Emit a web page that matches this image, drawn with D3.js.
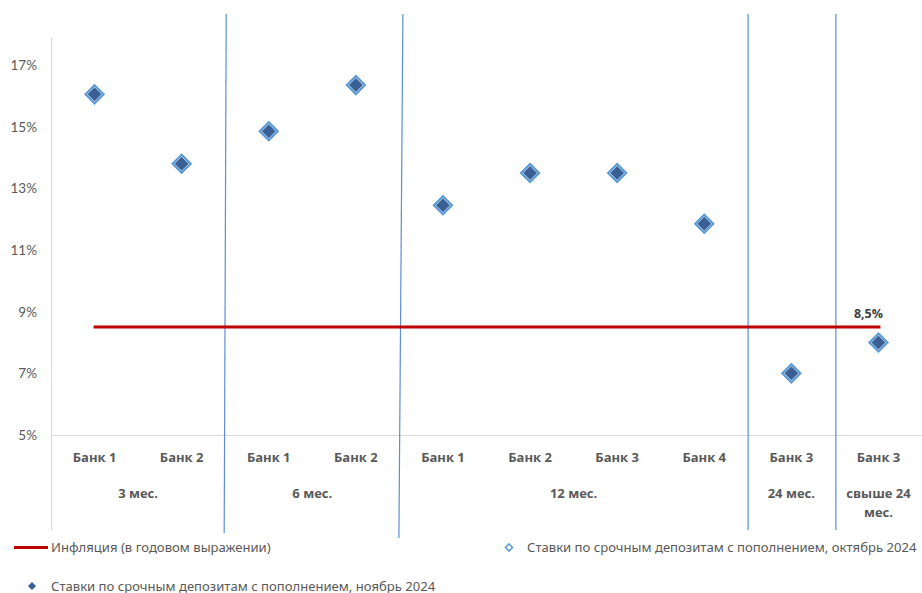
<!DOCTYPE html>
<html>
<head>
<meta charset="utf-8">
<script src="https://cdn.jsdelivr.net/npm/d3@7"></script>
<style>
  html, body { margin: 0; padding: 0; background: #fff; }
  svg { display: block; }
</style>
</head>
<body>
<svg id="chart" width="922" height="593"></svg>
<script>
// Deposit rates by bank and term
const banks = ["Банк 1", "Банк 2", "Банк 1", "Банк 2", "Банк 1", "Банк 2", "Банк 3", "Банк 4", "Банк 3", "Банк 3"];
const terms = [
  { label: ["3 мес."], start: 0, count: 2 },
  { label: ["6 мес."], start: 2, count: 2 },
  { label: ["12 мес."], start: 4, count: 4 },
  { label: ["24 мес."], start: 8, count: 1 },
  { label: ["свыше 24", "мес."], start: 9, count: 1 }
];
const ratesOct = [16.05, 13.8, 14.85, 16.35, 12.45, 13.5, 13.5, 11.85, 7.0, 8.0];
const ratesNov = [16.05, 13.8, 14.85, 16.35, 12.45, 13.5, 13.5, 11.85, 7.0, 8.0];
const inflation = 8.5;
const yTicks = [5, 7, 9, 11, 13, 15, 17];

const svg = d3.select("#chart");
const left = 51, right = 922, bottom = 435;

const x = d3.scaleBand().domain(d3.range(banks.length)).range([left, right]).paddingInner(0).paddingOuter(0);
const y = d3.scaleLinear().domain([5, 18]).range([bottom, 34.2]);
const cx = i => x(i) + x.bandwidth() / 2;

const axisFont = "Lato, 'Liberation Sans', sans-serif";
const catFont = "'Open Sans', Lato, sans-serif";
const textGray = "#595959";

// Value axis line and baseline
svg.append("line").attr("x1", left + 0.5).attr("x2", left + 0.5)
  .attr("y1", y(17.9)).attr("y2", 530).attr("stroke", "#d9d9d9").attr("stroke-width", 1);
svg.append("line").attr("x1", left).attr("x2", right)
  .attr("y1", bottom + 0.5).attr("y2", bottom + 0.5).attr("stroke", "#d9d9d9").attr("stroke-width", 1);

// Y tick labels
const yAxis = d3.axisLeft(y).tickValues(yTicks).tickFormat(d => d + "%").tickSize(0).tickPadding(14);
const gy = svg.append("g").attr("transform", `translate(${left},0)`).call(yAxis);
gy.select(".domain").remove();
gy.selectAll("text").attr("font-family", axisFont).attr("font-size", 13.5).attr("fill", textGray);

// Bank labels
const gx = svg.append("g").attr("transform", `translate(0,${bottom})`)
  .call(d3.axisBottom(x).tickFormat(i => banks[i]).tickSize(0).tickPadding(18));
gx.select(".domain").remove();
gx.selectAll("text").attr("font-family", catFont).attr("font-size", 13)
  .attr("font-weight", "bold").attr("fill", textGray);

// Term group labels
terms.forEach(t => {
  const mid = (x(t.start) + x(t.start + t.count - 1) + x.bandwidth()) / 2;
  const txt = svg.append("text").attr("x", mid).attr("y", 498)
    .attr("text-anchor", "middle").attr("font-family", catFont).attr("font-size", 13)
    .attr("font-weight", "bold").attr("fill", textGray);
  t.label.forEach((l, k) => txt.append("tspan").attr("x", mid).attr("dy", k === 0 ? 0 : 19).text(l));
});

// Term separators (hand-drawn lines, slightly tilted)
const sepSkew = [[1, -1, 533], [3.5, -0.5, 538], [0.3, 0.3, 530], [1, 1, 530]];
terms.slice(1).forEach((t, k) => {
  const bx = x(t.start);
  svg.append("line")
    .attr("x1", bx + sepSkew[k][0]).attr("y1", 14)
    .attr("x2", bx + sepSkew[k][1]).attr("y2", sepSkew[k][2])
    .attr("stroke", "#5b8fd2").attr("stroke-width", 1.2);
});

// Inflation line
svg.append("line")
  .attr("x1", cx(0) - 1).attr("x2", cx(banks.length - 1) + 2)
  .attr("y1", y(inflation)).attr("y2", y(inflation))
  .attr("stroke", "#c00000").attr("stroke-width", 3);
svg.append("text").attr("x", cx(banks.length - 1) - 10).attr("y", y(inflation) - 9)
  .attr("text-anchor", "middle").attr("font-family", catFont).attr("font-size", 12.5)
  .attr("font-weight", "bold").attr("fill", "#404040").text("8,5%");

// Diamond marker paths
const diamond = r => `M0,${-r}L${r},0L0,${r}L${-r},0Z`;

// October (hollow) markers
svg.append("g").selectAll("path").data(ratesOct).join("path")
  .attr("transform", (d, i) => `translate(${cx(i)},${y(d)})`)
  .attr("d", diamond(9))
  .attr("fill", "none").attr("stroke", "#5b9bd5").attr("stroke-width", 2.2);

// November (filled) markers
svg.append("g").selectAll("path").data(ratesNov).join("path")
  .attr("transform", (d, i) => `translate(${cx(i)},${y(d)})`)
  .attr("d", diamond(7))
  .attr("fill", "#3a5f95");

// Legend
const legendFont = "'Noto Sans', 'Open Sans', sans-serif";
const lg = svg.append("g").attr("font-family", legendFont).attr("font-size", 13.1).attr("fill", textGray);
lg.append("line").attr("x1", 14).attr("x2", 48).attr("y1", 547.5).attr("y2", 547.5)
  .attr("stroke", "#c00000").attr("stroke-width", 3);
lg.append("text").attr("x", 51).attr("y", 552).text("Инфляция (в годовом выражении)");
lg.append("path").attr("transform", "translate(509,547.5)").attr("d", diamond(3.5))
  .attr("fill", "none").attr("stroke", "#5b9bd5").attr("stroke-width", 1.6);
lg.append("text").attr("x", 527).attr("y", 552).text("Ставки по срочным депозитам с пополнением, октябрь 2024");
lg.append("path").attr("transform", "translate(32,586)").attr("d", diamond(4))
  .attr("fill", "#3a5f95");
lg.append("text").attr("x", 51).attr("y", 590.5).text("Ставки по срочным депозитам с пополнением, ноябрь 2024");
</script>
</body>
</html>
